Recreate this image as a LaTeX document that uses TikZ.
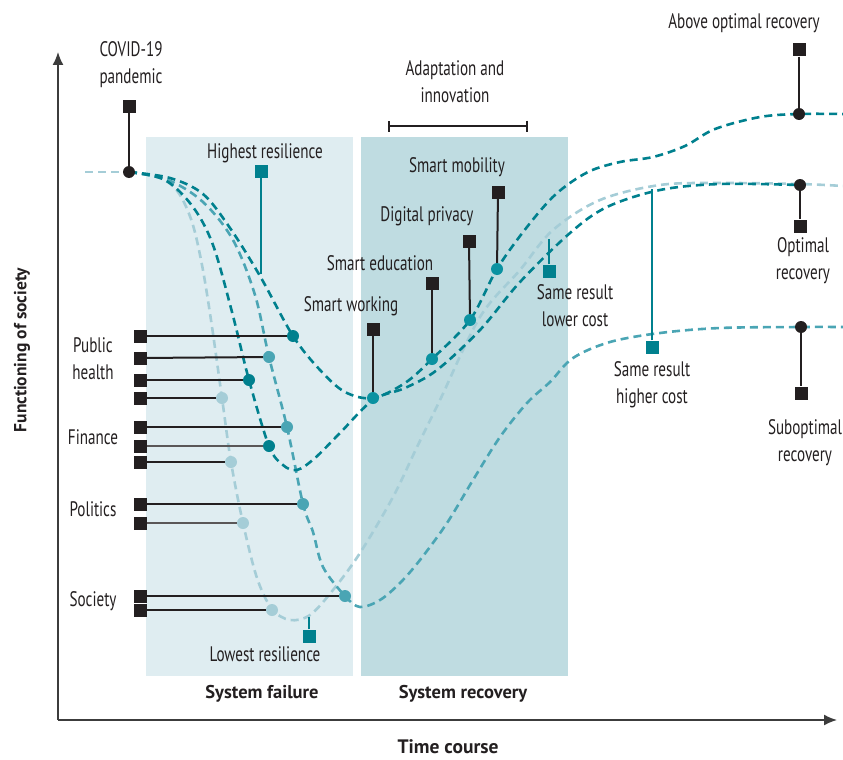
\documentclass[tikz,border=0pt]{standalone}
\usepackage{fontspec}
\setmainfont{PT Sans}[FakeStretch=0.72]
\newfontfamily\headfont{PT Sans}
\usetikzlibrary{arrows.meta}

\definecolor{ink}{HTML}{231F20}
\definecolor{axisgrey}{HTML}{3C3C3C}
\definecolor{tealdark}{HTML}{00808E}
\definecolor{tealdot}{HTML}{0A92A1}
\definecolor{tealmid}{HTML}{4AA5B4}
\definecolor{teallight}{HTML}{A5CDD7}
\definecolor{failfill}{HTML}{DFEDF1}
\definecolor{recofill}{HTML}{BFDCE1}

\begin{document}
\begin{tikzpicture}[
    x = 1pt, y = -1pt,
    note/.style = {text = ink, align = center, inner sep = 0pt,
      font = \fontsize{21}{27}\selectfont},
    heading/.style = {note, font = \headfont\fontsize{18.5}{26}\selectfont\bfseries},
    tag/.style = {fill = ink, minimum size = 13pt, inner sep = 0pt},
    teal tag/.style = {tag, fill = tealdark},
    bead/.style = {circle, fill = #1, minimum size = 12pt, inner sep = 0pt},
    bead/.default = ink,
    stem/.style = {draw = ink, line width = 2pt},
    thin stem/.style = {draw = ink!75, line width = 1.3pt},
    teal stem/.style = {draw = tealdark, line width = 2pt},
    course/.style = {draw = #1, line width = 2.6pt,
      dash pattern = on 8pt off 5pt},
    ]
    \useasboundingbox (0, 0) rectangle (843, 760);

    % phases
    \fill [failfill] (146, 137) rectangle (353, 676);
    \fill [recofill] (361, 137) rectangle (568, 676);
    \node at (262, 694) [heading, name = failure] {System failure};
    \node at (463, 694) [heading, name = recovery] {System recovery};

    % axes
    \coordinate (origin) at (58, 720);
    \coordinate (ytip) at (58, 52);
    \coordinate (xtip) at (837, 720);
    \draw [axisgrey, line width = 1.6pt, -{Latex[length = 13pt, width = 11pt]}]
      (origin) -- (ytip);
    \draw [axisgrey, line width = 1.6pt, -{Latex[length = 13pt, width = 11pt]}]
      (origin) -- (xtip);
    \node at (448, 747) [heading, font = \headfont\fontsize{19.5}{26}\selectfont\bfseries,
      name = xlabel] {Time course};
    \node at (22, 350) [heading, font = \headfont\fontsize{17.5}{26}\selectfont\bfseries,
      rotate = 90, name = ylabel] {Functioning of society};

    % courses
    \draw [course = teallight] (85, 172) -- (129, 172);
    \draw [course = teallight] plot [smooth, tension = 0.55] coordinates {
      (129,172) (160,178) (178,192) (192,222) (202,265) (211,320) (222,398)
      (231,462) (243,523) (257,578) (272,609) (290,620) (310,615) (333,590)
      (360,553) (393,497) (417,447) (440,400) (480,317) (520,270) (553,230)
      (600,200) (660,185) (720,183) (800,184) (843,186)};
    \draw [course = tealmid] plot [smooth, tension = 0.55] coordinates {
      (129,172) (168,180) (203,202) (233,240) (255,295) (269,357) (287,427)
      (303,504) (313,532) (323,567) (345,596) (360,607) (380,600) (400,583)
      (420,560) (447,523) (473,480) (500,437) (527,403) (550,382) (573,358)
      (610,342) (660,333) (720,328) (801,327) (843,327)};
    \draw [course = tealdark] plot [smooth, tension = 0.55] coordinates {
      (129,172) (165,180) (193,207) (213,245) (232,312) (249,380) (269,446)
      (283,465) (297,470) (315,458) (340,433) (373,400) (405,388) (437,370)
      (480,330) (520,282) (570,233) (607,207) (660,190) (720,184) (800,185)};
    \draw [course = tealdark] plot [smooth, tension = 0.55] coordinates {
      (129,172) (170,178) (203,194) (230,228) (260,276) (293,336) (320,370)
      (345,392) (373,398) (405,383) (432,359) (470,320) (497,269) (527,227)
      (556,194) (588,172) (620,162) (653,157) (685,146) (715,129) (760,117)
      (799,114) (843,114)};

    % pandemic
    \node at (131, 65) [note, name = covid] {COVID-19\\pandemic};
    \node at (129, 106) [tag, name = covid tag] {};
    \node at (129, 172) [bead, name = covid dot] {};
    \draw [stem] (covid tag) -- (covid dot);

    % sectors
    \node at (93, 359) [note, name = health] {Public\\health};
    \node at (93, 437) [note, name = finance] {Finance};
    \node at (93, 509) [note, name = politics] {Politics};
    \node at (93, 601) [note, name = society] {Society};

    \node at (140, 336) [tag, name = h1] {};
    \node at (140, 358) [tag, name = h2] {};
    \node at (140, 380) [tag, name = h3] {};
    \node at (140, 398) [tag, name = h4] {};
    \node at (140, 427) [tag, name = f1] {};
    \node at (140, 446) [tag, name = f2] {};
    \node at (140, 462) [tag, name = f3] {};
    \node at (140, 504) [tag, name = p1] {};
    \node at (140, 523) [tag, name = p2] {};
    \node at (140, 596) [tag, name = s1] {};
    \node at (140, 610) [tag, name = s2] {};

    \node at (293, 336) [bead = tealdark, name = h1 dot] {};
    \node at (269, 357) [bead = tealmid, name = h2 dot] {};
    \node at (249, 380) [bead = tealdark, name = h3 dot] {};
    \node at (222, 398) [bead = teallight, name = h4 dot] {};
    \node at (287, 427) [bead = tealmid, name = f1 dot] {};
    \node at (269, 446) [bead = tealdark, name = f2 dot] {};
    \node at (231, 462) [bead = teallight, name = f3 dot] {};
    \node at (303, 504) [bead = tealmid, name = p1 dot] {};
    \node at (243, 523) [bead = teallight, name = p2 dot] {};
    \node at (345, 596) [bead = tealmid, name = s1 dot] {};
    \node at (272, 610) [bead = teallight, name = s2 dot] {};

    \foreach \s in {h1, h2, h3, h4, f1, f3, p1, s1, s2}
      \draw [stem] (\s) -- (\s\space dot);
    \foreach \s in {f2, p2}
      \draw [thin stem] (\s) -- (\s\space dot);

    % resilience
    \node at (265, 153) [note, name = highest] {Highest resilience};
    \node at (261, 171) [teal tag, name = highest tag] {};
    \coordinate (highest end) at (261, 274);
    \draw [teal stem] (highest tag) -- (highest end);
    \node at (265, 654) [note, name = lowest] {Lowest resilience};
    \node at (309, 636) [teal tag, name = lowest tag] {};
    \coordinate (lowest end) at (309, 617);
    \draw [teal stem] (lowest tag) -- (lowest end);

    % adaptation
    \node at (455, 82) [note, name = adapt] {Adaptation and\\innovation};
    \coordinate (adapt start) at (388, 126);
    \coordinate (adapt stop) at (528, 126);
    \draw [ink, line width = 2pt, {Bar[width = 11pt]}-{Bar[width = 11pt]}]
      (adapt start) -- (adapt stop);

    \node at (351, 306) [note, name = working] {Smart working};
    \node at (380, 263) [note, name = education] {Smart education};
    \node at (427, 216) [note, name = privacy] {Digital privacy};
    \node at (457, 167) [note, name = mobility] {Smart mobility};
    \node at (373, 329) [tag, name = working tag] {};
    \node at (432, 283) [tag, name = education tag] {};
    \node at (469, 241) [tag, name = privacy tag] {};
    \node at (498, 192) [tag, name = mobility tag] {};
    \node at (373, 398) [bead = tealdot, name = working dot] {};
    \node at (432, 359) [bead = tealdot, name = education dot] {};
    \node at (470, 320) [bead = tealdot, name = privacy dot] {};
    \node at (497, 269) [bead = tealdot, name = mobility dot] {};
    \foreach \s in {working, education, privacy, mobility}
      \draw [stem] (\s\space tag) -- (\s\space dot);

    % cost
    \node at (575, 306) [note, name = lower] {Same result\\lower cost};
    \node at (549, 271) [teal tag, name = lower tag] {};
    \coordinate (lower end) at (549, 239);
    \draw [teal stem] (lower tag) -- (lower end);
    \node at (652, 385) [note, name = higher] {Same result\\higher cost};
    \node at (652, 347) [teal tag, name = higher tag] {};
    \coordinate (higher end) at (652, 189);
    \draw [teal stem] (higher tag) -- (higher end);

    % outcomes
    \node at (744, 23) [note, name = above] {Above optimal recovery};
    \node at (799, 50) [tag, name = above tag] {};
    \node at (799, 114) [bead, name = above dot] {};
    \draw [stem] (above tag) -- (above dot);
    \node at (803, 261) [note, name = optimal] {Optimal\\recovery};
    \node at (800, 185) [bead, name = optimal dot] {};
    \node at (800, 226) [tag, name = optimal tag] {};
    \draw [stem] (optimal dot) -- (optimal tag);
    \node at (805, 443) [note, name = suboptimal] {Suboptimal\\recovery};
    \node at (801, 327) [bead, name = suboptimal dot] {};
    \node at (801, 393) [tag, name = suboptimal tag] {};
    \draw [stem] (suboptimal dot) -- (suboptimal tag);
  \end{tikzpicture}
\end{document}
